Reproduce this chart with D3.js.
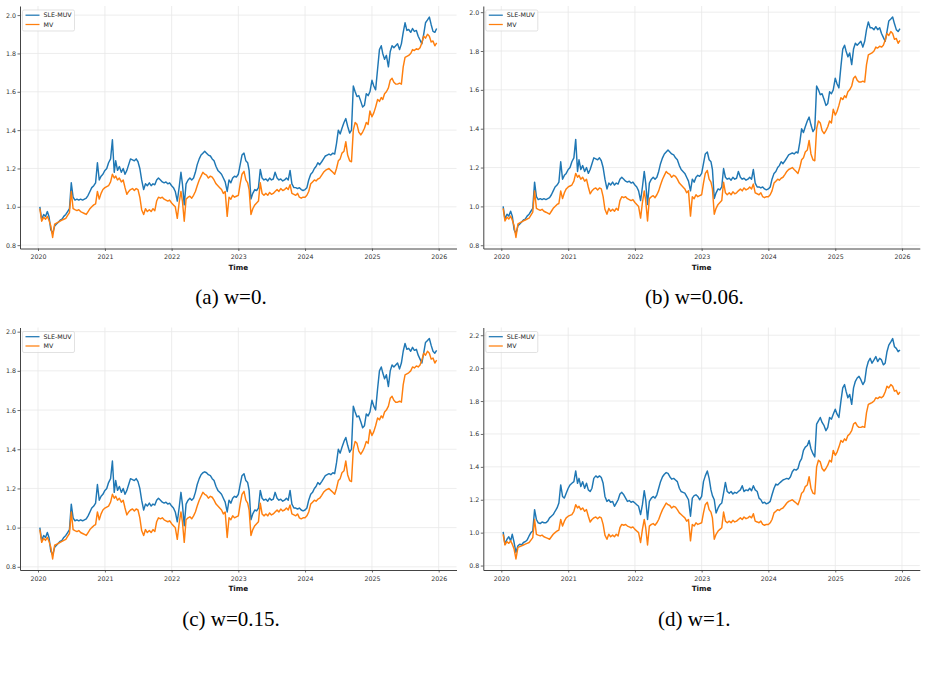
<!DOCTYPE html>
<html>
<head>
<meta charset="utf-8">
<script src="https://cdnjs.cloudflare.com/ajax/libs/d3/7.8.5/d3.min.js"></script>
<style>
body { margin: 0; background: #fff; }
svg { display: block; }
</style>
</head>
<body>
<svg width="927" height="674"></svg>
<script>
/*global d3 */
// sampled on the 1st, 11th and 21st of each month, 2020-01-11 .. 2025-12-21
var mv = [
    0.99, 0.925, 0.945, 0.935, 0.95, 0.93, 0.90, 0.84, 0.91, 0.915, 0.92, 0.925, 0.93, 0.935, 0.94, 0.955, 0.97, 1.08, 0.99, 0.985, 0.98, 0.985, 0.975, 0.97, 0.965, 0.96, 0.975, 0.99, 1.0, 1.01, 1.015, 1.08, 1.04, 1.07, 1.09,
    1.10, 1.105, 1.11, 1.13, 1.17, 1.15, 1.16, 1.14, 1.15, 1.13, 1.14, 1.10, 1.065, 1.08, 1.09, 1.095, 1.085, 1.095, 1.09, 1.05, 0.985, 0.96, 0.99, 0.975, 0.985, 0.975, 0.99, 0.98, 1.03, 1.05, 1.045, 1.05, 1.04, 1.035, 1.03, 1.035,
    1.02, 1.01, 1.0, 0.94, 1.02, 1.08, 1.03, 0.925, 1.04, 1.05, 1.055, 1.045, 1.06, 1.08, 1.11, 1.14, 1.16, 1.18, 1.17, 1.165, 1.15, 1.16, 1.155, 1.14, 1.12, 1.11, 1.10, 1.09, 1.07, 1.08, 0.95, 1.05, 1.04, 1.06, 1.05, 1.055,
    1.06, 1.12, 1.17, 1.185, 1.14, 1.125, 1.09, 0.96, 0.99, 1.01, 1.02, 1.03, 1.125, 1.07, 1.06, 1.07, 1.06, 1.075, 1.065, 1.07, 1.08, 1.09, 1.08, 1.095, 1.085, 1.09, 1.10, 1.09, 1.115, 1.07, 1.065, 1.06, 1.07, 1.05, 1.045, 1.05,
    1.05, 1.06, 1.08, 1.12, 1.13, 1.14, 1.135, 1.145, 1.15, 1.165, 1.18, 1.19, 1.195, 1.20, 1.19, 1.18, 1.17, 1.20, 1.24, 1.25, 1.28, 1.29, 1.34, 1.27, 1.24, 1.235, 1.40, 1.44, 1.43, 1.39, 1.375, 1.39, 1.41, 1.44, 1.43, 1.50,
    1.47, 1.49, 1.52, 1.56, 1.55, 1.57, 1.56, 1.59, 1.60, 1.62, 1.66, 1.67, 1.65, 1.64, 1.64, 1.645, 1.64, 1.73, 1.78, 1.785, 1.79, 1.80, 1.82, 1.815, 1.825, 1.82, 1.83, 1.855, 1.89, 1.88, 1.90, 1.89, 1.86, 1.865, 1.84, 1.855
];
var sleA = [
    1.0, 0.935, 0.96, 0.95, 0.975, 0.95, 0.88, 0.86, 0.90, 0.91, 0.92, 0.93, 0.935, 0.95, 0.96, 0.975, 0.99, 1.125, 1.05, 1.035, 1.04, 1.035, 1.04, 1.035, 1.04, 1.045, 1.06, 1.08, 1.10, 1.11, 1.125, 1.23, 1.14, 1.16, 1.17,
    1.19, 1.20, 1.23, 1.25, 1.35, 1.18, 1.24, 1.19, 1.21, 1.18, 1.20, 1.17, 1.19, 1.22, 1.25, 1.245, 1.24, 1.25, 1.235, 1.20, 1.14, 1.09, 1.12, 1.11, 1.125, 1.11, 1.12, 1.115, 1.14, 1.15, 1.14, 1.13, 1.125, 1.13, 1.12, 1.125,
    1.11, 1.10, 1.08, 1.03, 1.10, 1.18, 1.12, 1.01, 1.12, 1.14, 1.15, 1.14, 1.15, 1.18, 1.22, 1.25, 1.27, 1.28, 1.29, 1.28, 1.27, 1.265, 1.25, 1.24, 1.21, 1.19, 1.18, 1.17, 1.15, 1.13, 1.08, 1.14, 1.125, 1.15, 1.16, 1.155,
    1.17, 1.22, 1.27, 1.28, 1.24, 1.23, 1.19, 1.04, 1.07, 1.09, 1.085, 1.10, 1.195, 1.15, 1.14, 1.145, 1.135, 1.15, 1.14, 1.145, 1.18, 1.15, 1.14, 1.145, 1.135, 1.14, 1.15, 1.14, 1.19, 1.12, 1.10, 1.10, 1.095, 1.10, 1.09, 1.085,
    1.09, 1.10, 1.14, 1.17, 1.18, 1.20, 1.21, 1.23, 1.22, 1.235, 1.25, 1.265, 1.27, 1.275, 1.27, 1.28, 1.275, 1.33, 1.40, 1.38, 1.41, 1.44, 1.46, 1.42, 1.385, 1.40, 1.63, 1.60, 1.575, 1.58, 1.55, 1.52, 1.53, 1.59, 1.58, 1.60,
    1.66, 1.63, 1.61, 1.72, 1.82, 1.84, 1.80, 1.77, 1.79, 1.73, 1.81, 1.84, 1.83, 1.84, 1.85, 1.82, 1.85, 1.91, 1.96, 1.92, 1.925, 1.91, 1.93, 1.915, 1.92, 1.89, 1.87, 1.85, 1.90, 1.96, 1.975, 1.99, 1.95, 1.915, 1.91, 1.93
];
var sleB = [
    1.0, 0.935, 0.96, 0.95, 0.975, 0.95, 0.88, 0.86, 0.90, 0.91, 0.92, 0.93, 0.935, 0.95, 0.96, 0.975, 0.99, 1.125, 1.05, 1.035, 1.04, 1.035, 1.04, 1.035, 1.04, 1.045, 1.06, 1.08, 1.10, 1.11, 1.125, 1.23, 1.14, 1.16, 1.17,
    1.19, 1.20, 1.23, 1.25, 1.345, 1.18, 1.24, 1.19, 1.21, 1.18, 1.20, 1.17, 1.19, 1.22, 1.25, 1.245, 1.24, 1.25, 1.235, 1.20, 1.14, 1.09, 1.12, 1.11, 1.125, 1.11, 1.12, 1.115, 1.14, 1.15, 1.14, 1.13, 1.125, 1.13, 1.12, 1.125,
    1.11, 1.10, 1.08, 1.03, 1.10, 1.18, 1.12, 1.01, 1.12, 1.14, 1.15, 1.14, 1.15, 1.18, 1.22, 1.25, 1.27, 1.28, 1.29, 1.28, 1.27, 1.265, 1.25, 1.24, 1.21, 1.19, 1.18, 1.17, 1.15, 1.13, 1.08, 1.14, 1.125, 1.15, 1.16, 1.155,
    1.17, 1.22, 1.27, 1.28, 1.24, 1.23, 1.19, 1.04, 1.07, 1.09, 1.085, 1.10, 1.195, 1.15, 1.14, 1.145, 1.135, 1.15, 1.14, 1.145, 1.18, 1.15, 1.14, 1.145, 1.135, 1.14, 1.15, 1.14, 1.19, 1.12, 1.10, 1.10, 1.095, 1.10, 1.09, 1.085,
    1.09, 1.10, 1.14, 1.17, 1.18, 1.20, 1.21, 1.23, 1.22, 1.235, 1.25, 1.265, 1.27, 1.275, 1.27, 1.28, 1.275, 1.33, 1.40, 1.38, 1.41, 1.44, 1.46, 1.42, 1.385, 1.40, 1.62, 1.60, 1.575, 1.58, 1.55, 1.52, 1.53, 1.59, 1.58, 1.60,
    1.66, 1.63, 1.61, 1.72, 1.81, 1.83, 1.80, 1.77, 1.79, 1.73, 1.81, 1.84, 1.83, 1.84, 1.85, 1.82, 1.85, 1.91, 1.95, 1.92, 1.92, 1.91, 1.925, 1.91, 1.92, 1.89, 1.87, 1.85, 1.90, 1.955, 1.965, 1.975, 1.94, 1.91, 1.90, 1.915
];
var sleC = [
    1.0, 0.935, 0.96, 0.95, 0.975, 0.95, 0.88, 0.86, 0.90, 0.91, 0.92, 0.93, 0.935, 0.95, 0.96, 0.975, 0.99, 1.12, 1.05, 1.035, 1.04, 1.035, 1.04, 1.035, 1.04, 1.045, 1.06, 1.08, 1.10, 1.11, 1.125, 1.22, 1.14, 1.16, 1.17,
    1.19, 1.20, 1.23, 1.25, 1.34, 1.18, 1.24, 1.19, 1.21, 1.18, 1.20, 1.17, 1.19, 1.22, 1.25, 1.245, 1.24, 1.25, 1.235, 1.20, 1.14, 1.09, 1.12, 1.11, 1.125, 1.11, 1.12, 1.115, 1.14, 1.15, 1.14, 1.13, 1.125, 1.13, 1.12, 1.125,
    1.11, 1.10, 1.08, 1.03, 1.10, 1.18, 1.12, 1.01, 1.12, 1.14, 1.15, 1.14, 1.15, 1.18, 1.22, 1.25, 1.27, 1.28, 1.285, 1.28, 1.27, 1.265, 1.25, 1.24, 1.21, 1.19, 1.18, 1.17, 1.15, 1.13, 1.08, 1.14, 1.125, 1.15, 1.16, 1.155,
    1.17, 1.22, 1.265, 1.275, 1.24, 1.23, 1.19, 1.04, 1.07, 1.09, 1.085, 1.10, 1.19, 1.15, 1.14, 1.145, 1.135, 1.15, 1.14, 1.145, 1.18, 1.15, 1.14, 1.145, 1.135, 1.14, 1.15, 1.14, 1.19, 1.12, 1.10, 1.10, 1.095, 1.10, 1.09, 1.085,
    1.09, 1.10, 1.14, 1.17, 1.18, 1.20, 1.21, 1.23, 1.22, 1.235, 1.25, 1.265, 1.27, 1.275, 1.27, 1.28, 1.275, 1.33, 1.40, 1.38, 1.41, 1.44, 1.46, 1.42, 1.385, 1.40, 1.62, 1.59, 1.565, 1.57, 1.54, 1.51, 1.52, 1.58, 1.57, 1.59,
    1.65, 1.62, 1.60, 1.71, 1.80, 1.82, 1.79, 1.76, 1.78, 1.72, 1.80, 1.83, 1.82, 1.83, 1.84, 1.81, 1.84, 1.90, 1.94, 1.91, 1.915, 1.90, 1.92, 1.905, 1.91, 1.88, 1.86, 1.84, 1.89, 1.945, 1.955, 1.965, 1.93, 1.90, 1.89, 1.905
];
var sleD = [
    1.005, 0.93, 0.96, 0.975, 0.95, 0.99, 0.94, 0.88, 0.92, 0.93, 0.925, 0.94, 0.945, 0.955, 0.98, 1.0, 1.01, 1.14, 1.08, 1.06, 1.055, 1.065, 1.06, 1.06, 1.07, 1.09, 1.10, 1.11, 1.13, 1.15, 1.18, 1.29, 1.22, 1.21, 1.24,
    1.27, 1.29, 1.30, 1.31, 1.375, 1.30, 1.33, 1.28, 1.31, 1.27, 1.30, 1.26, 1.25, 1.27, 1.33, 1.345, 1.335, 1.345, 1.335, 1.30, 1.22, 1.19, 1.20, 1.185, 1.19, 1.16, 1.18, 1.20, 1.235, 1.245, 1.23, 1.21, 1.19, 1.195, 1.185, 1.19,
    1.18, 1.17, 1.16, 1.11, 1.17, 1.255, 1.20, 1.08, 1.19, 1.21, 1.22, 1.21, 1.23, 1.27, 1.31, 1.34, 1.355, 1.365, 1.36, 1.34, 1.325, 1.33, 1.32, 1.31, 1.27, 1.25, 1.245, 1.24, 1.22, 1.20, 1.10, 1.21, 1.225, 1.23, 1.22, 1.20,
    1.22, 1.31, 1.345, 1.375, 1.33, 1.26, 1.225, 1.20, 1.12, 1.15, 1.17, 1.18, 1.24, 1.305, 1.25, 1.24, 1.25, 1.235, 1.245, 1.24, 1.25, 1.26, 1.285, 1.25, 1.26, 1.255, 1.27, 1.255, 1.285, 1.26, 1.25, 1.21, 1.20, 1.18, 1.185, 1.175,
    1.18, 1.19, 1.23, 1.27, 1.295, 1.29, 1.30, 1.31, 1.32, 1.325, 1.33, 1.325, 1.34, 1.37, 1.385, 1.38, 1.39, 1.43, 1.45, 1.50, 1.52, 1.53, 1.56, 1.51, 1.48, 1.46, 1.66, 1.68, 1.70, 1.67, 1.65, 1.62, 1.64, 1.70, 1.69, 1.72,
    1.75, 1.72, 1.70, 1.80, 1.88, 1.90, 1.86, 1.82, 1.84, 1.78, 1.88, 1.92, 1.94, 1.95, 1.93, 1.90, 1.92, 2.00, 2.04, 2.06, 2.03, 2.05, 2.07, 2.04, 2.06, 2.05, 2.02, 2.03, 2.10, 2.14, 2.16, 2.18, 2.13, 2.12, 2.10, 2.11
];
var seriesNames = ["SLE-MUV", "MV"];
var captions = ["(a) w=0.", "(b) w=0.06.", "(c) w=0.15.", "(d) w=1."];
var yearTicks = [2020, 2021, 2022, 2023, 2024, 2025, 2026];
var yTicksLow = [0.8, 1.0, 1.2, 1.4, 1.6, 1.8, 2.0];
var yTicksHigh = [0.8, 1.0, 1.2, 1.4, 1.6, 1.8, 2.0, 2.2];

var dates = [];
yearTicks.slice(0, 6).forEach(function (yr) {
    "use strict";
    d3.range(12).forEach(function (m) {
        [1, 11, 21].forEach(function (d) {
            if (!(yr === 2020 && m === 0 && d === 1)) { dates.push(new Date(yr, m, d)); }
        });
    });
});

var colors = ["#1f77b4", "#ff7f0e"];
var plotW = 436.5, plotH = 242.5;
var panels = [
    {sle: sleA, ticks: yTicksLow, left: 20, top: 6},
    {sle: sleB, ticks: yTicksLow, left: 483.3, top: 6},
    {sle: sleC, ticks: yTicksLow, left: 20, top: 327.5},
    {sle: sleD, ticks: yTicksHigh, left: 483.3, top: 327.5}
];

var svg = d3.select("svg");

var drawPanel = function (p, i) {
    "use strict";
    var g = svg.append("g").attr("transform", "translate(" + p.left + "," + p.top + ")");
    var series = [p.sle, mv].map(function (vals) {
        return vals.map(function (v, k) { return {t: dates[k], v: v}; }).filter(function (d) { return d.t; });
    });

    var tExt = d3.extent(dates), tPad = (tExt[1] - tExt[0]) * 0.05;
    var x = d3.scaleTime()
        .domain([new Date(+tExt[0] - tPad), new Date(+tExt[1] + tPad)])
        .range([0, plotW]);
    var all = p.sle.concat(mv);
    var lo = d3.min(all), hi = d3.max(all), vPad = (hi - lo) * 0.05;
    var y = d3.scaleLinear().domain([lo - vPad, hi + vPad]).range([plotH, 0]);
    var tickDates = yearTicks.map(function (yr) { return new Date(yr, 0, 1); });

    // grid
    g.append("g").selectAll("line").data(tickDates).enter().append("line")
        .attr("x1", function (d) { return x(d); }).attr("x2", function (d) { return x(d); })
        .attr("y1", 0).attr("y2", plotH)
        .attr("stroke", "#e8e8e8").attr("stroke-width", 0.8);
    g.append("g").selectAll("line").data(p.ticks).enter().append("line")
        .attr("x1", 0).attr("x2", plotW)
        .attr("y1", function (d) { return y(d); }).attr("y2", function (d) { return y(d); })
        .attr("stroke", "#e8e8e8").attr("stroke-width", 0.8);

    // lines
    var line = d3.line().x(function (d) { return x(d.t); }).y(function (d) { return y(d.v); });
    g.selectAll("path.series").data(series).enter().append("path")
        .attr("class", "series")
        .attr("d", line)
        .attr("fill", "none")
        .attr("stroke", function (d, k) { return colors[k]; })
        .attr("stroke-width", 1.45)
        .attr("stroke-linejoin", "round");

    // axes
    var xAxis = g.append("g").attr("transform", "translate(0," + plotH + ")")
        .call(d3.axisBottom(x).tickValues(tickDates).tickFormat(d3.timeFormat("%Y"))
            .tickSize(2.5).tickSizeOuter(0).tickPadding(3.6));
    var yAxis = g.append("g")
        .call(d3.axisLeft(y).tickValues(p.ticks).tickFormat(d3.format(".1f"))
            .tickSize(2.5).tickSizeOuter(0).tickPadding(1.5));
    [xAxis, yAxis].forEach(function (a) {
        a.attr("font-family", "DejaVu Sans").attr("font-size", 6.3);
        a.select(".domain").attr("stroke", "#444").attr("stroke-width", 1);
        a.selectAll(".tick line").attr("stroke", "#444").attr("stroke-width", 0.8);
        a.selectAll(".tick text").attr("fill", "#333");
    });

    g.append("text")
        .attr("x", plotW / 2).attr("y", plotH + 21)
        .attr("text-anchor", "middle")
        .attr("font-family", "DejaVu Sans").attr("font-weight", "bold").attr("font-size", 7.2)
        .attr("fill", "#111")
        .text("Time");

    // legend
    var lg = g.append("g").attr("transform", "translate(2.5,4)");
    lg.append("rect").attr("width", 52).attr("height", 21).attr("rx", 1.5)
        .attr("fill", "#fff").attr("fill-opacity", 0.8)
        .attr("stroke", "#d6d6d6").attr("stroke-width", 0.7);
    seriesNames.forEach(function (name, k) {
        lg.append("line").attr("x1", 3).attr("x2", 17)
            .attr("y1", 5.2 + k * 9.3).attr("y2", 5.2 + k * 9.3)
            .attr("stroke", colors[k]).attr("stroke-width", 1.25);
        lg.append("text").attr("x", 21).attr("y", 5.2 + k * 9.3).attr("dy", "0.35em")
            .attr("font-family", "DejaVu Sans").attr("font-size", 6.3).attr("fill", "#222")
            .text(name);
    });

    // caption
    svg.append("text")
        .attr("x", p.left + 211).attr("y", p.top + plotH + 55.5)
        .attr("text-anchor", "middle")
        .attr("font-family", "Liberation Serif").attr("font-size", 21)
        .attr("fill", "#000")
        .text(captions[i]);
};

panels.forEach(drawPanel);
</script>
</body>
</html>
